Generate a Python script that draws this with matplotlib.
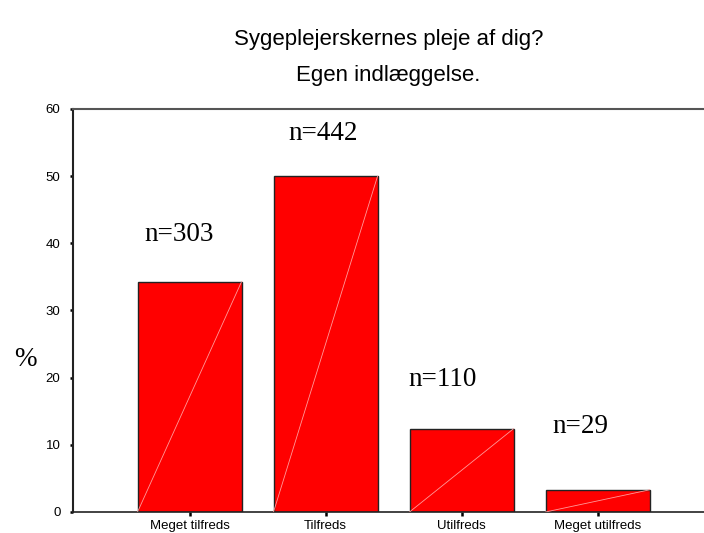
import numpy as np
import matplotlib
matplotlib.use('Agg')
import matplotlib.pyplot as plt

# data
categories = ['Meget tilfreds', 'Tilfreds', 'Utilfreds', 'Meget utilfreds']
counts = [303, 442, 110, 29]
percent = [34.3, 50.0, 12.4, 3.3]

# where the n= labels sit relative to each bar (data units)
label_dx = [-0.08, -0.02, -0.136, -0.125]
label_dy = [7.0, 6.3, 7.4, 9.5]

title_1 = 'Sygeplejerskernes pleje af dig?'
title_2 = 'Egen indlæggelse.'

fig = plt.figure(figsize=(7.04, 5.33), dpi=100)
ax = fig.add_axes([0.1037, 0.0394, 0.8963, 0.7561])

x = np.arange(len(categories))
bars = ax.bar(x, percent, width=0.765, color='#ff0000', edgecolor='#222222',
              linewidth=1.0, zorder=2)

# thin light diagonal inside each bar
for b in bars:
    x0, w, h = b.get_x(), b.get_width(), b.get_height()
    ax.plot([x0, x0 + w], [0, h], color='#ff9a9a', linewidth=0.6, zorder=3)

for xi, v, n, dx, dy in zip(x, percent, counts, label_dx, label_dy):
    ax.text(xi + dx, v + dy, 'n=%d' % n, family='Liberation Serif',
            fontsize=19.5, ha='center', va='center')

ax.set_xlim(-0.857, 3.783)
ax.set_ylim(0, 60)
ax.set_yticks(np.arange(0, 61, 10))
ax.set_xticks(x)
ax.set_xticklabels(categories)

ax.tick_params(axis='y', direction='out', length=2, width=1.8, pad=7,
               labelsize=9.5)
ax.tick_params(axis='x', direction='out', length=3, width=1.8, pad=3,
               labelsize=9.5)
for lab in ax.get_xticklabels() + ax.get_yticklabels():
    lab.set_family('Liberation Sans')

ax.spines['right'].set_visible(False)
ax.spines['left'].set_linewidth(1.5)
ax.spines['left'].set_color('#222222')
ax.spines['bottom'].set_linewidth(1.2)
ax.spines['bottom'].set_color('#222222')
ax.spines['top'].set_linewidth(1.5)
ax.spines['top'].set_color('#555555')

fig.text(0.5518, 1 - 40 / 533, title_1, family='Liberation Sans',
         fontsize=16, ha='center', va='center')
fig.text(0.5518, 1 - 75 / 533, title_2, family='Liberation Sans',
         fontsize=16, ha='center', va='center')
fig.text(25 / 704, 1 - 360 / 533, '%', family='Liberation Serif',
         fontsize=19.5, ha='center', va='center')

fig.savefig('out.png', dpi=100)
